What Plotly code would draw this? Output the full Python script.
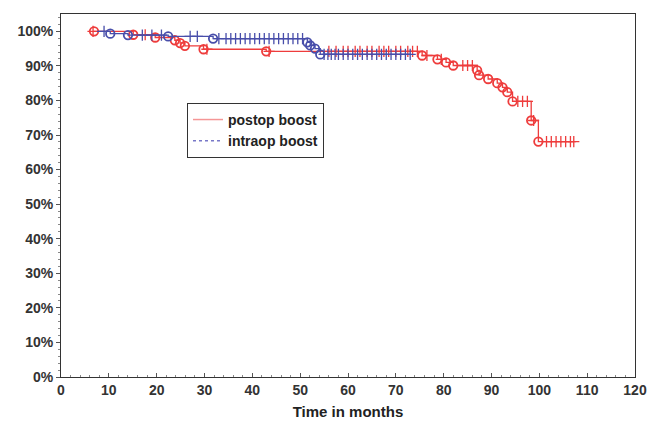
import plotly.graph_objects as go

# ---- data (months, survival %) ----
post_start = 6.7
post_event_t = [6.9, 15.1, 19.7, 23.8, 24.9, 25.9, 29.8, 42.9, 75.5, 78.7, 80.5, 82.0,
                87.0, 87.4, 89.3, 91.2, 92.3, 93.3, 94.4, 98.3, 99.8]
post_event_p = [100.0, 99.0, 98.2, 97.4, 96.6, 95.8, 94.8, 94.2, 93.0, 91.9, 91.0, 90.1,
                88.7, 87.3, 86.2, 85.0, 83.8, 82.4, 79.7, 74.2, 68.1]
post_cens_t = [6.7, 17.6, 30.5, 43.5, 56.0, 57.5, 59.0, 60.0, 61.5, 62.5, 64.0, 65.0, 66.5,
               67.5, 68.5, 70.0, 71.0, 72.5, 73.5, 74.5, 76.5, 79.5, 84.0, 85.0, 86.0,
               95.5, 96.5, 97.5, 98.8, 101.5, 102.5, 103.5, 104.5, 105.5, 106.5, 107.2]

intra_start = 7.5
intra_event_t = [10.3, 14.0, 22.4, 31.8, 51.5, 52.1, 53.1, 54.2]
intra_event_p = [99.3, 98.9, 98.5, 97.9, 96.8, 95.9, 95.0, 93.3]
intra_cens_t = [9.0, 17.0, 19.0, 21.0, 27.0, 28.5, 33.0, 34.5, 35.5, 36.5, 37.5, 38.5, 39.5,
                40.5, 41.5, 42.5, 43.5, 44.5, 45.5, 46.5, 47.5, 48.5, 49.5, 50.5,
                55.0, 55.8, 56.5, 57.3, 58.0, 59.0, 60.0, 61.0, 62.0, 63.0, 64.0, 65.0,
                66.0, 67.0, 68.0, 69.0, 70.0, 71.0, 72.0, 73.0]

x_ticks = list(range(0, 121, 10))
y_ticks = list(range(0, 101, 10))
y_tick_labels = [f"{v}%" for v in y_ticks]

RED = "rgb(238,60,60)"
BLUE = "rgb(72,78,170)"


def step_curve(start, ev_t, ev_p, cens_t):
    xs, ys = [start], [100.0]
    for t, p in zip(ev_t, ev_p):
        xs.append(t)
        ys.append(p)
    end = max(cens_t + ev_t)
    xs.append(end)
    ys.append(ys[-1])
    return xs, ys


def level_at(t, ev_t, ev_p):
    p = 100.0
    for et, ep in zip(ev_t, ev_p):
        if et <= t:
            p = ep
    return p


fig = go.Figure()

for name, color, start, et, ep, ct in [
    ("postop boost", RED, post_start, post_event_t, post_event_p, post_cens_t),
    ("intraop boost", BLUE, intra_start, intra_event_t, intra_event_p, intra_cens_t),
]:
    xs, ys = step_curve(start, et, ep, ct)
    fig.add_trace(go.Scatter(x=xs, y=ys, mode="lines", line=dict(color=color, width=1.3, shape="hv"),
                             showlegend=False, hoverinfo="skip"))
    fig.add_trace(go.Scatter(x=ct, y=[level_at(t, et, ep) for t in ct], mode="markers",
                             marker=dict(symbol="cross-thin-open", size=8, color=color,
                                         line=dict(color=color, width=1.3)),
                             showlegend=False))
    fig.add_trace(go.Scatter(x=et, y=ep, mode="markers",
                             marker=dict(symbol="circle-open", size=8.5, color=color,
                                         line=dict(color=color, width=1.8)),
                             showlegend=False))

# legend entries
fig.add_trace(go.Scatter(x=[None], y=[None], mode="lines", name="<b>postop boost</b>",
                         line=dict(color="rgb(245,150,150)", width=1.5)))
fig.add_trace(go.Scatter(x=[None], y=[None], mode="lines", name="<b>intraop boost</b>",
                         line=dict(color="rgb(120,120,200)", width=1.5, dash="dot")))

fig.update_layout(
    width=652, height=422,
    margin=dict(l=61, r=17, t=14, b=45),
    paper_bgcolor="white", plot_bgcolor="white",
    font=dict(family="Liberation Sans, Arial, sans-serif", size=14, color="#333333"),
    legend=dict(x=0.2195, y=0.755, xanchor="left", yanchor="top",
                bordercolor="#333333", borderwidth=1, bgcolor="white",
                font=dict(size=14, color="#222222", family="Liberation Sans, Arial, sans-serif"),
                tracegroupgap=0, itemwidth=30),
    showlegend=True,
)
fig.update_xaxes(range=[0, 120], tickvals=x_ticks, ticktext=[f"<b>{v}</b>" for v in x_ticks],
                 automargin=False, ticklabeloverflow="allow",
                 showgrid=False, zeroline=False, showline=True, linecolor="#333333", linewidth=1,
                 mirror=True, ticks="inside", ticklen=4, tickcolor="#555555",
                 minor=dict(dtick=2, ticks="inside", ticklen=2, tickcolor="#888888"),
                 title=dict(text="<b>Time in months</b>", standoff=9, font=dict(size=15, color="#222222")))
fig.update_yaxes(range=[0, 105], tickvals=y_ticks, ticktext=[f"<b>{t}</b>" for t in y_tick_labels],
                 automargin=False,
                 showgrid=False, zeroline=False, showline=True, linecolor="#333333", linewidth=1,
                 mirror=True, ticks="outside", ticklen=4, tickcolor="#555555",
                 minor=dict(dtick=2, ticks="outside", ticklen=2, tickcolor="#888888"))

# remove the default page margin so the figure fills the 652x422 window exactly
fig.write_html("out.html", config={"displayModeBar": False},
               post_script="document.body.style.margin='0';document.body.style.overflow='hidden';")
